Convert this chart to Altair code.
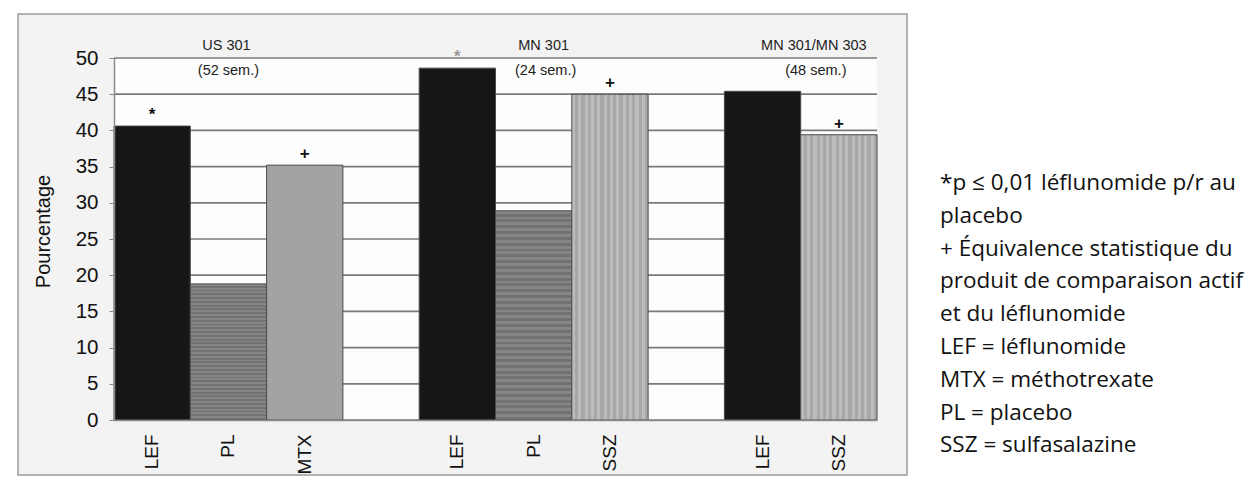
import altair as alt
import pandas as pd

# ---------------- data ----------------
drugs = ["LEF", "PL", "MTX", "LEF", "PL", "SSZ", "LEF", "SSZ"]
percent = [40.6, 18.8, 35.2, 48.6, 28.9, 45.0, 45.4, 39.4]
study_index = [0, 0, 0, 1, 1, 1, 2, 2]
markers = ["*", "", "+", "*", "", "+", "", "+"]
study_names = ["US 301", "MN 301", "MN 301/MN 303"]
study_weeks = ["(52 sem.)", "(24 sem.)", "(48 sem.)"]
y_ticks = [0, 5, 10, 15, 20, 25, 30, 35, 40, 45, 50]
notes = [
    "*p \u2264 0,01 l\u00e9flunomide p/r au",
    "placebo",
    "+ \u00c9quivalence statistique du",
    "produit de comparaison actif",
    "et du l\u00e9flunomide",
    "LEF = l\u00e9flunomide",
    "MTX = m\u00e9thotrexate",
    "PL = placebo",
    "SSZ = sulfasalazine",
]

# ---------------- styles ----------------
REG = "Liberation Sans, Arial, sans-serif"
W, H = 763, 362


def stripes(c1, c2, n, horizontal):
    stops = []
    for k in range(n):
        a, b = k / n, (k + 0.5) / n
        stops += [alt.GradientStop(color=c1, offset=a), alt.GradientStop(color=c1, offset=b),
                  alt.GradientStop(color=c2, offset=b), alt.GradientStop(color=c2, offset=(k + 1) / n)]
    if horizontal:
        return alt.LinearGradient(gradient="linear", stops=stops, x1=0, x2=0, y1=0, y2=1)
    return alt.LinearGradient(gradient="linear", stops=stops, x1=0, x2=1, y1=0, y2=0)


drug_fill = {
    "LEF": "#161616",
    "PL": stripes("#868686", "#727272", 36, True),
    "MTX": "#a3a3a3",
    "SSZ": stripes("#bcbcbc", "#a8a8a8", 12, False),
}
title_dx = [-2, 10, -25]

# ---------------- tables ----------------
slots, slot_labels, rows = [], [], []
prev = None
for d, v, s, m in zip(drugs, percent, study_index, markers):
    if prev is not None and s != prev:
        slots.append(f"s{len(slots)}")
        slot_labels.append("")
    sid = f"s{len(slots)}"
    slots.append(sid)
    slot_labels.append(d)
    rows.append({"slot": sid, "drug": d, "pct": v, "mark": m, "study": s})
    prev = s
bars = pd.DataFrame(rows)

title_rows = []
for si, (nm, wk) in enumerate(zip(study_names, study_weeks)):
    sub = bars[bars.study == si].reset_index(drop=True)
    title_rows.append({"slot": sub.loc[len(sub) // 2, "slot"], "name": nm, "weeks": wk, "study": si})
titles = pd.DataFrame(title_rows)

one = pd.DataFrame({"k": [0]})

label_array = "[" + ",".join(f"'{l}'" for l in slot_labels) + "]"
xaxis = alt.Axis(
    title=None, labelExpr=f"{label_array}[toNumber(substring(datum.value, 1))]",
    labelAngle=-90, labelFont=REG, labelFontSize=19, labelColor="#111",
    labelPadding=14, ticks=False, domainColor="#8a8a8a", domainWidth=1.5, zindex=1,
)
xenc = alt.X("slot:N", sort=slots,
             scale=alt.Scale(domain=slots, paddingInner=0, paddingOuter=0), axis=xaxis)
yscale = alt.Scale(domain=[0, 50], nice=False, zero=True)
yaxis = alt.Axis(
    values=y_ticks, grid=False, labelFont=REG, labelFontSize=20.5, labelColor="#111",
    tickSize=5, tickColor="#8a8a8a", domainColor="#8a8a8a", domainWidth=1.5,
    labelPadding=11, title="Pourcentage", titleFont=REG, titleFontSize=20,
    titleFontWeight="normal", titleColor="#111", titleX=-61, titleY=173,
    titleBaseline="bottom", titleAngle=-90, zindex=1,
)
yenc = alt.Y("pct:Q", scale=yscale, axis=yaxis)

frame = alt.Chart(one).mark_rect(fill="#f3f3f3", stroke="#9c9c9c", strokeWidth=1.5).encode(
    x=alt.value(-96), x2=alt.value(793), y=alt.value(-44), y2=alt.value(417))
plotbg = alt.Chart(one).mark_rect(fill="#fdfdfd").encode(
    x=alt.value(0), x2=alt.value(W), y=alt.value(0), y2=alt.value(H))
grid = alt.Chart(pd.DataFrame({"pct": y_ticks})).mark_rule(color="#7a7a7a", strokeWidth=1.7).encode(
    y=yenc)

bar_layers = []
for d, fill in drug_fill.items():
    bar_layers.append(
        alt.Chart(bars).transform_filter(alt.datum.drug == d)
        .mark_bar(fill=fill, stroke="#4a4a4a", strokeWidth=1)
        .encode(x=xenc, y=yenc)
    )

marks = alt.Chart(bars).mark_text(
    baseline="bottom", dy=-2, font=REG, fontSize=17, fontWeight="bold"
).encode(
    x=xenc, y=yenc, text="mark:N",
    color=alt.condition("datum.study == 1 && datum.mark == '*'", alt.value("#9a9a9a"), alt.value("#111")),
)

title_layers = []
for si in range(len(study_names)):
    sub = alt.Chart(titles).transform_filter(alt.datum.study == si)
    title_layers.append(sub.mark_text(font=REG, fontSize=14.5, color="#222", dx=title_dx[si], baseline="middle")
                        .encode(x=xenc, y=alt.value(-12), text="name:N"))
    title_layers.append(sub.mark_text(font=REG, fontSize=14.5, color="#222", dx=title_dx[si] + 2, baseline="middle")
                        .encode(x=xenc, y=alt.value(13), text="weeks:N"))

note = alt.Chart(pd.DataFrame({"t": ["\n".join(notes)]})).mark_text(
    align="left", baseline="alphabetic", font="Open Sans, Lato, sans-serif", fontSize=22.5,
    lineBreak="\n", lineHeight=32.8, color="#111",
).encode(x=alt.value(826), y=alt.value(132), text="t:N")

chart = alt.layer(frame, plotbg, grid, *bar_layers, marks, *title_layers, note).properties(
    width=W, height=H,
    autosize=alt.AutoSizeParams(type="none"),
    padding={"left": 106, "top": 50, "right": 372, "bottom": 57},
).configure_view(stroke=None)

chart.save("out.html", embed_options={"renderer": "svg", "actions": False})
